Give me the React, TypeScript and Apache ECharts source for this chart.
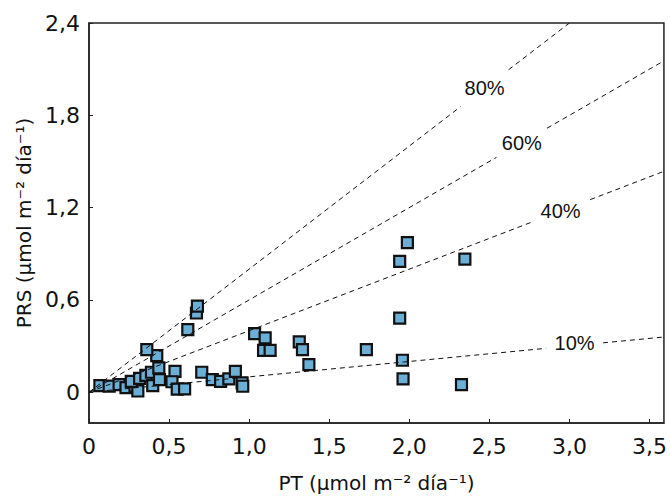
import React, { useEffect, useRef } from "react";
import * as echarts from "echarts";

// Scatter observations: PT (x) and PRS (y)
const ptValues = [
  0.068, 0.126, 0.188, 0.231, 0.287, 0.305, 0.264, 0.316, 0.355, 0.39, 0.398,
  0.44, 0.436, 0.423, 0.361, 0.537, 0.518, 0.551, 0.597, 0.617, 0.671, 0.677,
  0.704, 0.77, 0.822, 0.873, 0.914, 0.956, 0.96, 1.034, 1.1, 1.09, 1.131,
  1.313, 1.333, 1.373, 1.732, 1.94, 1.957, 1.961, 1.94, 1.988, 2.347, 2.326,
];
const prsValues = [
  0.043, 0.04, 0.05, 0.03, 0.04, 0.008, 0.071, 0.09, 0.11, 0.13, 0.043, 0.082,
  0.158, 0.238, 0.277, 0.136, 0.068, 0.02, 0.022, 0.407, 0.515, 0.56, 0.13,
  0.082, 0.071, 0.087, 0.136, 0.061, 0.039, 0.381, 0.353, 0.272, 0.272, 0.327,
  0.277, 0.18, 0.277, 0.482, 0.208, 0.087, 0.85, 0.973, 0.865, 0.05,
];

// Reference ratio lines PRS = ratio * PT
const ratioNames = ["80%", "60%", "40%", "10%"];
const ratios = [0.8, 0.6, 0.4, 0.1];
const ratioGapStart = [2.32, 2.545, 2.76, 2.855];
const ratioGapEnd = [2.62, 2.86, 3.13, 3.21];

const xTicks = [0, 0.5, 1.0, 1.5, 2.0, 2.5, 3.0, 3.5];
const yTicks = [0, 0.6, 1.2, 1.8, 2.4];
const X_MIN = 0;
const X_MAX = 3.59;
const Y_MIN = -0.2;
const Y_MAX = 2.4;

const fmt = (v: number) => (v === 0 ? "0" : v.toFixed(1).replace(".", ","));

export default function App() {
  const ref = useRef<HTMLDivElement>(null);
  useEffect(() => {
    if (!ref.current) return;
    const chart = echarts.init(ref.current, null, { renderer: "svg" });

    const lineSeries = ratios.map((r, i) => {
      const xEnd = Math.min(X_MAX, Y_MAX / r);
      return {
        type: "line",
        name: ratioNames[i],
        data: [
          [0, 0],
          [ratioGapStart[i], r * ratioGapStart[i]],
          ["-", "-"],
          [ratioGapEnd[i], r * ratioGapEnd[i]],
          [xEnd, r * xEnd],
        ],
        connectNulls: false,
        symbol: "none",
        silent: true,
        z: 5,
        lineStyle: { color: "#111", width: 1, type: [5, 4] },
      };
    });

    const labelData = ratios.map((r, i) => {
      const mid = (ratioGapStart[i] + ratioGapEnd[i]) / 2;
      return { value: [mid, r * mid + (i === 3 ? 0.02 : 0)], name: ratioNames[i] };
    });

    const axisFont = {
      fontFamily: "DejaVu Sans",
      fontSize: 22,
      color: "#111",
    };

    chart.setOption({
      animation: false,
      backgroundColor: "#fff",
      grid: {
        left: 89,
        right: 1,
        top: 23,
        bottom: 78,
        show: true,
        borderColor: "#222",
        borderWidth: 1.5,
      },
      xAxis: {
        type: "value",
        min: X_MIN,
        max: X_MAX,
        interval: 0.5,
        name: "PT (µmol m⁻² día⁻¹)",
        nameLocation: "middle",
        nameGap: 50,
        nameTextStyle: { fontFamily: "DejaVu Sans", fontSize: 20, color: "#111" },
        axisLine: { show: true, onZero: false, lineStyle: { color: "#222", width: 1.5 } },
        axisTick: {
          show: true,
          inside: true,
          length: 4,
          customValues: xTicks,
          lineStyle: { color: "#222", width: 1 },
        },
        axisLabel: {
          ...axisFont,
          margin: 12,
          customValues: xTicks,
          formatter: (v: number) => fmt(v),
        },
        splitLine: { show: false },
      },
      yAxis: {
        type: "value",
        min: Y_MIN,
        max: Y_MAX,
        name: "PRS (µmol m⁻² día⁻¹)",
        nameLocation: "middle",
        nameGap: 47,
        nameRotate: 90,
        nameTextStyle: { fontFamily: "DejaVu Sans", fontSize: 20, color: "#111" },
        axisLine: { show: true, onZero: false, lineStyle: { color: "#222", width: 1.5 } },
        axisTick: {
          show: true,
          inside: true,
          length: 4,
          customValues: yTicks,
          lineStyle: { color: "#222", width: 1 },
        },
        axisLabel: {
          ...axisFont,
          margin: 9,
          customValues: yTicks,
          formatter: (v: number) => fmt(v),
        },
        splitLine: { show: false },
      },
      series: [
        {
          type: "scatter",
          name: "PRS",
          data: ptValues.map((x, i) => [x, prsValues[i]]),
          symbol: "rect",
          symbolSize: 11,
          z: 3,
          itemStyle: {
            color: "#6baed6",
            borderColor: "#111",
            borderWidth: 2.2,
            opacity: 1,
          },
        },
        ...lineSeries,
        {
          type: "scatter",
          name: "labels",
          data: labelData,
          symbolSize: 1,
          silent: true,
          z: 6,
          itemStyle: { color: "rgba(0,0,0,0)", opacity: 1 },
          label: {
            show: true,
            position: "inside",
            formatter: (p: any) => p.name,
            fontFamily: "Liberation Sans",
            fontSize: 20,
            color: "#111",
            opacity: 1,
            textBorderWidth: 0,
          },
        },
      ],
    });
    return () => chart.dispose();
  }, []);

  return (
    <div
      ref={ref}
      style={{ position: "fixed", left: 0, top: 0, width: 670, height: 501, background: "#fff" }}
    />
  );
}
